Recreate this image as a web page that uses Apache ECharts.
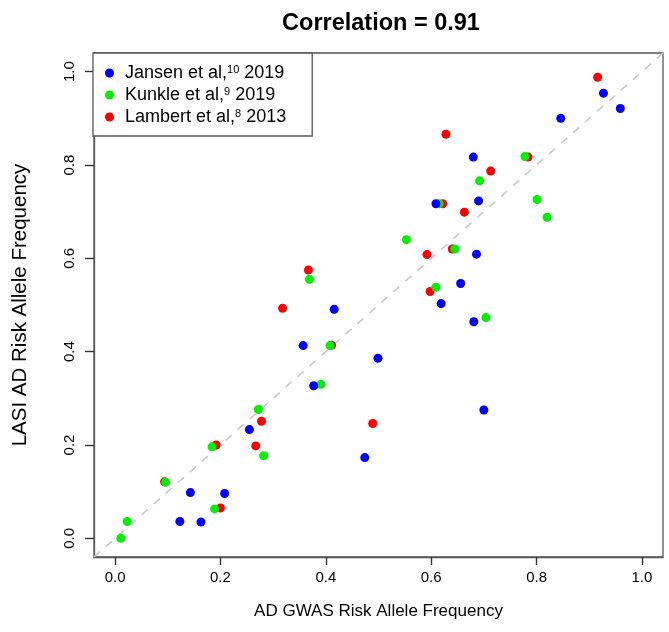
<!DOCTYPE html>
<html>
<head>
<meta charset="utf-8">
<script src="https://cdn.jsdelivr.net/npm/echarts@6/dist/echarts.min.js"></script>
<style>
html,body{margin:0;padding:0;background:#fff;}
#chart{width:669px;height:632px;}
</style>
</head>
<body>
<div id="chart"></div>
<script>
// ---- data (x = AD GWAS RAF, y = LASI AD RAF) ----
var jansenX = [0.123,0.163,0.143,0.208,0.255,0.357,0.377,0.499,0.474,0.416,0.927,0.959,0.846,0.680,0.609,0.690,0.686,0.656,0.619,0.681,0.700];
var jansenY = [0.036,0.035,0.098,0.096,0.233,0.413,0.327,0.386,0.173,0.491,0.954,0.921,0.900,0.817,0.717,0.723,0.609,0.546,0.503,0.464,0.275];

var kunkleX = [0.011,0.023,0.189,0.096,0.184,0.272,0.282,0.408,0.391,0.369,0.778,0.692,0.615,0.801,0.820,0.553,0.645,0.609,0.704];
var kunkleY = [0.000,0.036,0.063,0.120,0.196,0.276,0.177,0.413,0.330,0.555,0.818,0.766,0.717,0.726,0.688,0.640,0.620,0.538,0.473];

var lambertX = [0.200,0.094,0.192,0.278,0.267,0.411,0.489,0.367,0.318,0.916,0.628,0.784,0.713,0.622,0.663,0.592,0.640,0.598];
var lambertY = [0.065,0.121,0.200,0.251,0.198,0.414,0.246,0.575,0.493,0.988,0.866,0.817,0.787,0.717,0.699,0.608,0.620,0.529];

var tickValues = [0, 0.2, 0.4, 0.6, 0.8, 1.0];
var axisMin = -0.04, axisMax = 1.04;
var titleText = 'Correlation = 0.91';
var xName = 'AD GWAS Risk Allele Frequency';
var yName = 'LASI AD Risk Allele Frequency';

function pairs(xs, ys){ return xs.map(function(v,i){ return [v, ys[i]]; }); }

var FONT = '"Liberation Sans", Arial, Helvetica, sans-serif';
var chart = echarts.init(document.getElementById('chart'), null, {renderer:'canvas'});

var tickFmt = function(v){ return Number(v).toFixed(1); };

chart.setOption({
  animation: false,
  backgroundColor: '#fff',
  title: {
    text: titleText,
    left: 376, top: 7, textAlign: 'center',
    textStyle: {fontFamily: FONT, fontSize: 23.5, fontWeight: 'bold', color: '#000'}
  },
  grid: {
    left: 94, top: 53, width: 569, height: 504,
    show: true, borderColor: '#555', borderWidth: 1.3, backgroundColor: 'transparent'
  },
  legend: {
    orient: 'vertical',
    left: 93, top: 53,
    data: ['Jansen', 'Kunkle', 'Lambert'],
    backgroundColor: '#fff',
    borderColor: '#555', borderWidth: 1.3, borderRadius: 0,
    padding: [11, 26, 10, 12],
    itemGap: 4,
    itemWidth: 9, itemHeight: 9, itemTextGap: 10,
    icon: 'circle',
    textStyle: {
      fontFamily: FONT, fontSize: 18, color: '#000',
      rich: {
        g: {width: 6, fontSize: 18, lineHeight: 18},
        t: {fontFamily: FONT, fontSize: 18, color: '#000', lineHeight: 18},
        s: {fontFamily: FONT, fontSize: 11, color: '#000', verticalAlign: 'top', lineHeight: 18, padding: [0,0,7,0]}
      }
    },
    formatter: function(name){
      if (name === 'Jansen') return '{g| }{t|Jansen et al,}{s|10}{t| 2019}';
      if (name === 'Kunkle') return '{g| }{t|Kunkle et al,}{s|9}{t| 2019}';
      return '{g| }{t|Lambert et al,}{s|8}{t| 2013}';
    }
  },
  xAxis: {
    type: 'value', min: axisMin, max: axisMax,
    name: xName, nameLocation: 'middle', nameGap: 46,
    nameTextStyle: {fontFamily: FONT, fontSize: 17, color: '#000'},
    axisLine: {show: true, onZero: false, lineStyle: {color: '#555', width: 1.3}},
    splitLine: {show: false},
    axisTick: {show: true, customValues: tickValues, length: 8, lineStyle: {color: '#333', width: 1.4}},
    axisLabel: {customValues: tickValues, formatter: tickFmt, margin: 13, fontFamily: FONT, fontSize: 15, color: '#000'}
  },
  yAxis: {
    type: 'value', min: axisMin, max: axisMax,
    name: yName, nameLocation: 'middle', nameGap: 63,
    nameTextStyle: {fontFamily: FONT, fontSize: 20.5, color: '#000'},
    axisLine: {show: true, onZero: false, lineStyle: {color: '#555', width: 1.3}},
    splitLine: {show: false},
    axisTick: {show: true, customValues: tickValues, length: 9, lineStyle: {color: '#333', width: 1.4}},
    axisLabel: {customValues: tickValues, formatter: tickFmt, rotate: 90, margin: 17, fontFamily: FONT, fontSize: 15, color: '#000'}
  },
  series: [
    {
      type: 'line', data: [[axisMin, axisMin],[axisMax, axisMax]],
      symbol: 'none', silent: true, z: 1,
      lineStyle: {color: '#c8c8c8', width: 1.6, type: [8, 8]}
    },
    {
      name: 'Lambert', type: 'scatter', data: pairs(lambertX, lambertY),
      symbol: 'circle', symbolSize: 9, z: 2,
      itemStyle: {color: '#ff0000', opacity: 1}
    },
    {
      name: 'Kunkle', type: 'scatter', data: pairs(kunkleX, kunkleY),
      symbol: 'circle', symbolSize: 9, z: 3,
      itemStyle: {color: '#00f000', opacity: 1}
    },
    {
      name: 'Jansen', type: 'scatter', data: pairs(jansenX, jansenY),
      symbol: 'circle', symbolSize: 9, z: 4,
      itemStyle: {color: '#0000ff', opacity: 1}
    }
  ]
});
</script>
</body>
</html>
